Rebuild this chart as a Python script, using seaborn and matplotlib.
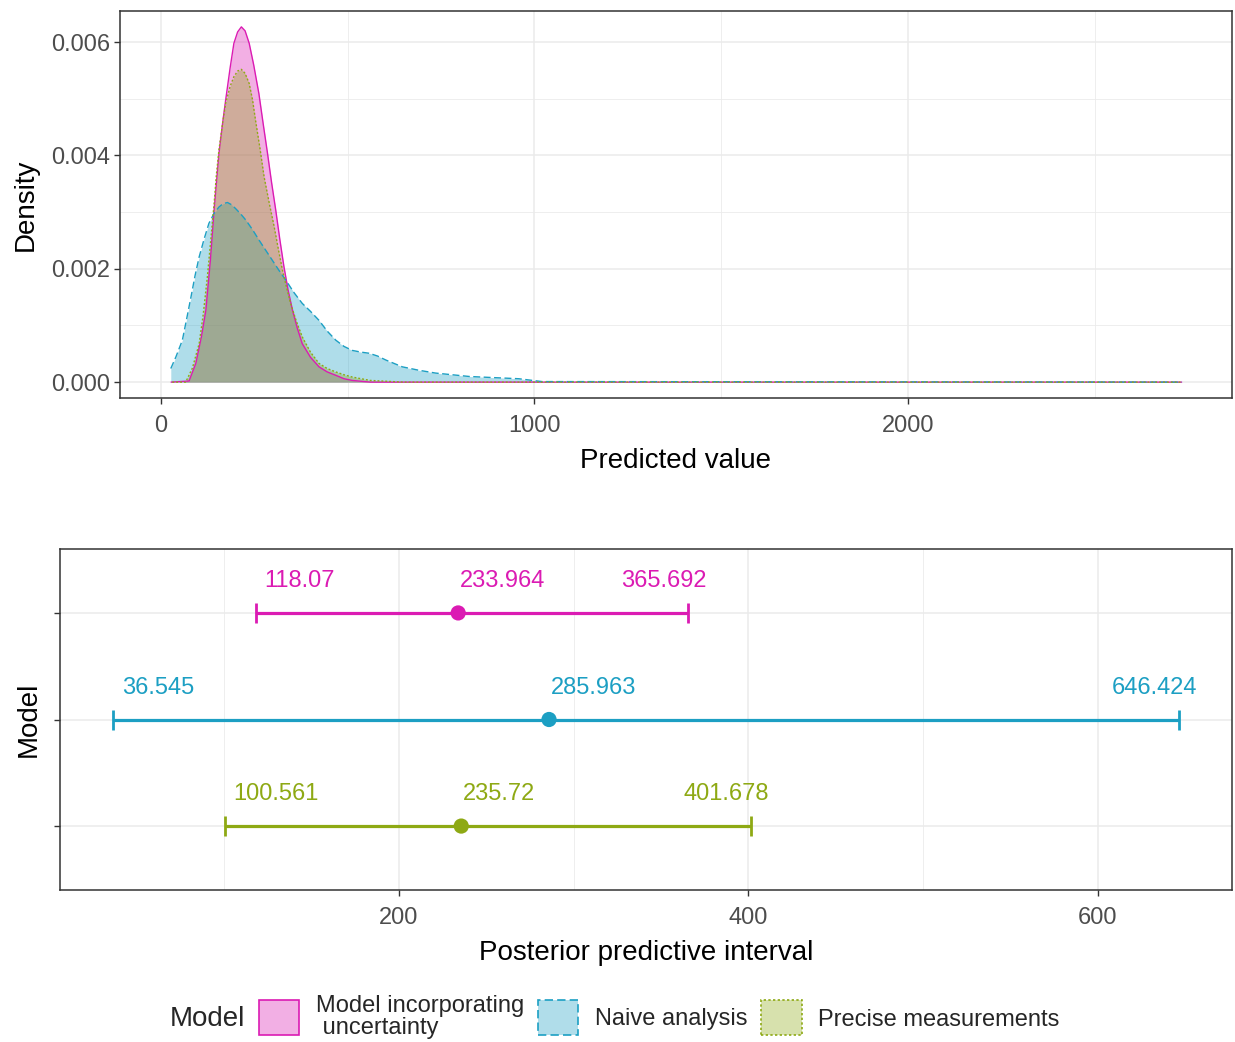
import numpy as np
import pandas as pd
import matplotlib
matplotlib.use("Agg")
import matplotlib.pyplot as plt
from matplotlib.patches import Patch
from matplotlib.ticker import MultipleLocator, FuncFormatter
import seaborn as sns

# ---- data -------------------------------------------------------------
models = ["Model incorporating uncertainty", "Naive analysis", "Precise measurements"]
colors = ["#DB1BB3", "#1C9FC3", "#8EA914"]

# posterior predictive density curves (x = predicted value, y = density * 1e3)
x_uncert = [27, 75, 93, 108, 120, 132, 142, 155, 165, 173, 185, 195, 205, 215, 225,
            236, 248, 262, 273, 285, 296, 307, 318, 329, 340, 352, 365, 378, 400,
            423, 445, 468, 490, 512, 560, 2733]
y_uncert = [0.0, 0.02, 0.33, 0.80, 1.27, 2.15, 3.04, 4.04, 4.58, 4.98, 5.55, 5.98,
            6.18, 6.27, 6.20, 5.98, 5.60, 5.09, 4.58, 4.04, 3.52, 3.04, 2.52, 2.04,
            1.63, 1.27, 0.95, 0.68, 0.44, 0.27, 0.18, 0.12, 0.06, 0.03, 0.0, 0.0]

x_naive = [26, 40, 57, 68, 80, 91, 102, 115, 128, 142, 155, 166, 178, 189, 200, 213,
           227, 245, 262, 280, 298, 316, 334, 356, 378, 400, 423, 445, 468, 490, 512,
           535, 557, 580, 602, 624, 646, 690, 735, 780, 825, 890, 958, 1020, 2733]
y_naive = [0.24, 0.45, 0.74, 1.10, 1.50, 1.88, 2.21, 2.52, 2.80, 2.98, 3.09, 3.15,
           3.17, 3.13, 3.06, 2.97, 2.86, 2.69, 2.51, 2.33, 2.15, 1.97, 1.80, 1.58,
           1.39, 1.25, 1.09, 0.90, 0.74, 0.63, 0.56, 0.53, 0.51, 0.46, 0.39, 0.33,
           0.27, 0.21, 0.16, 0.13, 0.10, 0.08, 0.06, 0.01, 0.0]

x_precise = [30, 66, 84, 102, 113, 124, 133, 142, 148, 155, 165, 173, 185, 195, 205,
             215, 225, 236, 245, 253, 265, 276, 290, 303, 314, 325, 336, 347, 362,
             378, 400, 423, 445, 468, 490, 512, 560, 650, 2733]
y_precise = [0.0, 0.0, 0.25, 0.68, 1.20, 1.86, 2.50, 3.15, 3.65, 4.10, 4.58, 4.92,
             5.22, 5.39, 5.49, 5.52, 5.45, 5.27, 4.98, 4.62, 4.12, 3.62, 3.15, 2.74,
             2.35, 1.98, 1.67, 1.39, 1.08, 0.80, 0.53, 0.33, 0.24, 0.18, 0.13, 0.09,
             0.03, 0.0, 0.0]

# posterior predictive intervals
lower = [118.07, 36.545, 100.561]
median = [233.964, 285.963, 235.72]
upper = [365.692, 646.424, 401.678]

# ---- styling ----------------------------------------------------------
sns.set_theme(style="whitegrid")
plt.rcParams["font.family"] = ["Liberation Sans", "DejaVu Sans"]
plt.rcParams["axes.edgecolor"] = "#333333"
plt.rcParams["axes.linewidth"] = 1.0

TICK_FS = 17
TITLE_FS = 20
GRID = "#EBEBEB"

fig = plt.figure(figsize=(12.35, 10.42), dpi=100)
ax1 = fig.add_axes([120 / 1235, 1 - 398 / 1042, (1232 - 120) / 1235, (398 - 11) / 1042])
ax2 = fig.add_axes([60 / 1235, 1 - 890 / 1042, (1232 - 60) / 1235, (890 - 549) / 1042])


def style_axes(ax):
    ax.set_facecolor("white")
    for s in ax.spines.values():
        s.set_visible(True)
        s.set_color("#333333")
        s.set_linewidth(1.1)
    ax.grid(which="major", color=GRID, linewidth=1.1)
    ax.tick_params(axis="both", which="major", length=4, width=1, color="#333333",
                   labelsize=TICK_FS, labelcolor="#4D4D4D", pad=3, bottom=True, left=True)
    ax.tick_params(axis="x", which="major", pad=8)
    ax.tick_params(which="minor", length=0)
    ax.set_axisbelow(True)


# ---- top panel: densities ----------------------------------------------
dens = pd.concat([
    pd.DataFrame({"value": x_uncert, "density": np.array(y_uncert) / 1000, "Model": models[0]}),
    pd.DataFrame({"value": x_naive, "density": np.array(y_naive) / 1000, "Model": models[1]}),
    pd.DataFrame({"value": x_precise, "density": np.array(y_precise) / 1000, "Model": models[2]}),
], ignore_index=True)

palette = dict(zip(models, colors))
dash_map = {models[0]: "", models[1]: (5, 2.5), models[2]: (1.4, 1.4)}

for m, c in zip(models, colors):
    sub = dens[dens["Model"] == m]
    ax1.fill_between(sub["value"], 0, sub["density"], color=c, alpha=0.35, linewidth=0)

sns.lineplot(data=dens, x="value", y="density", hue="Model", style="Model",
             palette=palette, dashes=dash_map, hue_order=models, style_order=models,
             linewidth=1.0, ax=ax1, legend=False, sort=True, estimator=None)

style_axes(ax1)
ax1.set_xlim(-110, 2868)
ax1.set_ylim(-0.00028, 0.00655)
ax1.xaxis.set_major_locator(MultipleLocator(1000))
ax1.xaxis.set_minor_locator(MultipleLocator(500))
ax1.yaxis.set_major_locator(MultipleLocator(0.002))
ax1.yaxis.set_minor_locator(MultipleLocator(0.001))
ax1.yaxis.set_major_formatter(FuncFormatter(lambda v, p: f"{v:.3f}"))
ax1.grid(which="minor", color=GRID, linewidth=0.6)
ax1.set_xlabel("Predicted value", fontsize=TITLE_FS, color="black", labelpad=8)
ax1.set_ylabel("Density", fontsize=TITLE_FS, color="black", labelpad=9)

# ---- bottom panel: intervals -------------------------------------------
ypos = [2, 1, 0]
ints = pd.DataFrame({"Model": models, "lower": lower, "median": median,
                     "upper": upper, "y": ypos})

for _, r in ints.iterrows():
    c = palette[r["Model"]]
    ax2.errorbar(r["median"], r["y"],
                 xerr=[[r["median"] - r["lower"]], [r["upper"] - r["median"]]],
                 fmt="none", ecolor=c, elinewidth=2.3, capsize=7.5, capthick=2.0,
                 zorder=3)

sns.scatterplot(data=ints, x="median", y="y", hue="Model", palette=palette,
                hue_order=models, s=120, edgecolor="none", legend=False, ax=ax2,
                zorder=4)

# interval labels
for _, r in ints.iterrows():
    c = palette[r["Model"]]
    ax2.annotate(f"{r['lower']:g}", (r["lower"], r["y"]), xytext=(6, 23),
                 textcoords="offset points", ha="left", va="center",
                 fontsize=TICK_FS, color=c)
    ax2.annotate(f"{r['median']:g}", (r["median"], r["y"]), xytext=(1, 23),
                 textcoords="offset points", ha="left", va="center",
                 fontsize=TICK_FS, color=c)
    ax2.annotate(f"{r['upper']:g}", (r["upper"], r["y"]), xytext=(13, 23),
                 textcoords="offset points", ha="right", va="center",
                 fontsize=TICK_FS, color=c)

style_axes(ax2)
ax2.set_xlim(6.05, 676.9)
ax2.set_ylim(-0.6, 2.6)
ax2.xaxis.set_minor_locator(MultipleLocator(100))
ax2.set_xticks([200, 400, 600])
ax2.set_yticks(ypos)
ax2.set_yticklabels(["", "", ""])
ax2.grid(which="minor", axis="x", color=GRID, linewidth=0.6)
ax2.set_xlabel("Posterior predictive interval", fontsize=TITLE_FS, color="black", labelpad=8)
ax2.set_ylabel("Model", fontsize=TITLE_FS, color="black", labelpad=6)

# ---- legend ------------------------------------------------------------
styles = ["solid", (0, (5, 2.5)), (0, (1.4, 1.4))]
handles = [Patch(edgecolor=c, linestyle=ls, linewidth=1.2)
           for c, ls in zip(colors, styles)]
for h, c in zip(handles, colors):
    rgb = np.array(matplotlib.colors.to_rgb(c))
    h.set_facecolor(tuple(0.35 * rgb + 0.65))
labels = [m.replace(" uncertainty", "\n uncertainty") for m in models]

fig.text(170 / 1235, 1 - 1019 / 1042, "Model", fontsize=TITLE_FS, va="center", ha="left")
leg = fig.legend(handles, labels, loc="center left",
                 bbox_to_anchor=(259 / 1235, 1 - 1017 / 1042), ncol=3, frameon=False,
                 fontsize=17, handlelength=1.7, handleheight=1.9,
                 handletextpad=0.7, columnspacing=0.6, borderpad=0, borderaxespad=0)
for t in leg.get_texts():
    t.set_linespacing(1.0)

fig.savefig("out.png", dpi=100, facecolor="white")
